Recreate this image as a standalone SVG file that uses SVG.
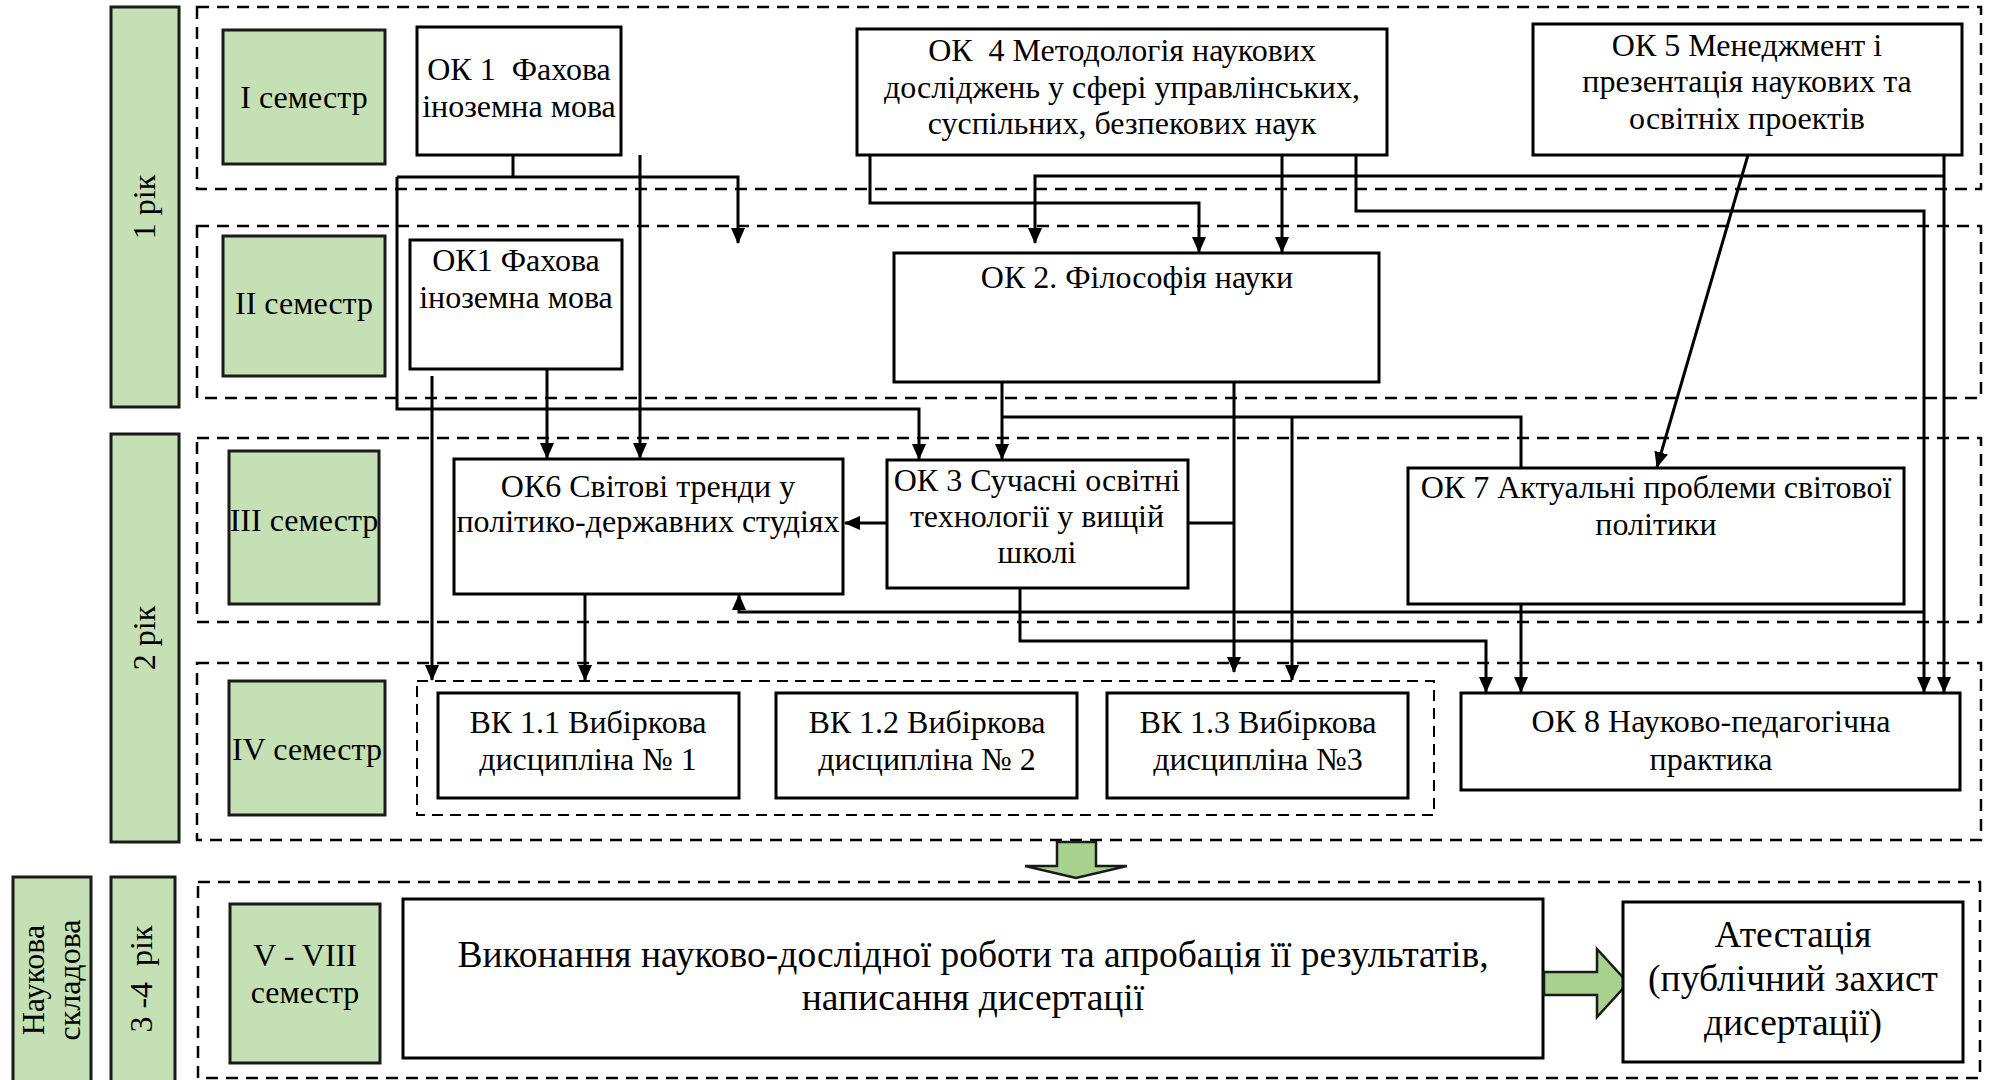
<svg xmlns="http://www.w3.org/2000/svg" width="1990" height="1080" viewBox="0 0 1990 1080" xml:space="preserve">
<defs>
<style>
.bg{fill:#ffffff}
.dash{fill:none;stroke:#000;stroke-width:2.5;stroke-dasharray:12 8}
.dash2{fill:none;stroke:#000;stroke-width:2;stroke-dasharray:11 7}
.green{fill:#c5e0b4;stroke:#1a1a1a;stroke-width:3}
.box{fill:#ffffff;stroke:#000;stroke-width:3}
.t{font-family:"Liberation Serif","Times New Roman",serif;font-size:32px;fill:#000;text-anchor:middle;white-space:pre}
.tb{font-family:"Liberation Serif","Times New Roman",serif;font-size:37.5px;fill:#000;text-anchor:middle;white-space:pre}
.c{fill:none;stroke:#000;stroke-width:3}
.ca{fill:none;stroke:#000;stroke-width:3;marker-end:url(#ah)}
.garrow{fill:#a9d18e;stroke:#1a1a1a;stroke-width:2.5}
</style>
<marker id="ah" markerUnits="userSpaceOnUse" markerWidth="16" markerHeight="14" refX="15" refY="7" orient="auto">
<path d="M0,0 L16,7 L0,14 Z" fill="#000"/>
</marker>
</defs>
<rect class="bg" x="0" y="0" width="1990" height="1080"/>

<g id="semester-frames">
<rect class="dash" x="197" y="7" width="1784" height="182"/>
<rect class="dash" x="197" y="226" width="1784" height="172"/>
<rect class="dash" x="197" y="438" width="1784" height="184"/>
<rect class="dash" x="197" y="663" width="1784" height="177"/>
<rect class="dash" x="198" y="882" width="1782" height="196"/>
</g>

<g id="year1">
<rect class="green" x="111" y="7" width="68" height="400"/>
<text class="t" x="155" y="207" transform="rotate(-90 155 207)">1 рік</text>
</g>
<g id="year2">
<rect class="green" x="111" y="434" width="68" height="408"/>
<text class="t" x="155" y="638" transform="rotate(-90 155 638)">2 рік</text>
</g>
<g id="year34">
<rect class="green" x="111" y="877" width="64" height="210"/>
<text class="t" x="152" y="979" transform="rotate(-90 152 979)" xml:space="preserve">3 -4  рік</text>
</g>
<g id="science">
<rect class="green" x="13" y="877" width="78" height="210"/>
<text class="t" x="44" y="980" transform="rotate(-90 44 980)">Наукова</text>
<text class="t" x="80" y="980" transform="rotate(-90 80 980)">складова</text>
</g>

<g id="sem1"><rect class="green" x="223" y="30" width="162" height="134"/><text class="t" x="304" y="108">I семестр</text></g>
<g id="sem2"><rect class="green" x="223" y="236" width="162" height="140"/><text class="t" x="304" y="314">II семестр</text></g>
<g id="sem3"><rect class="green" x="229" y="451" width="150" height="153"/><text class="t" x="304" y="531">III семестр</text></g>
<g id="sem4"><rect class="green" x="229" y="681" width="156" height="134"/><text class="t" x="307" y="760">IV семестр</text></g>
<g id="sem5"><rect class="green" x="230" y="904" width="150" height="159"/><text class="t" x="305" y="966">V - VIII</text><text class="t" x="305" y="1003">семестр</text></g>

<g id="connectors">
<path class="c" d="M513,155 V177"/>
<path class="ca" d="M397,177 H738 V243"/>
<path class="ca" d="M397,177 V409 H919 V459"/>
<path class="ca" d="M640,155 V458"/>
<path class="ca" d="M547,369 V458"/>
<path class="ca" d="M432,376 V680"/>
<path class="ca" d="M870,155 V203 H1199 V252"/>
<path class="ca" d="M1282,155 V252"/>
<path class="ca" d="M1356,155 V211 H1924 V692"/>
<path class="ca" d="M1924,612 H739 V595"/>
<path class="ca" d="M1944,155 V692"/>
<path class="ca" d="M1944,176 H1035 V243"/>
<path class="ca" d="M1748,155 L1657,467"/>
<path class="ca" d="M1002,382 V459"/>
<path class="c" d="M1002,417 H1521 V468"/>
<path class="ca" d="M1292,417 V680"/>
<path class="ca" d="M1234,382 V672"/>
<path class="c" d="M1188,523 H1234"/>
<path class="ca" d="M887,523 H845"/>
<path class="ca" d="M1020,588 V641 H1486 V692"/>
<path class="ca" d="M1521,604 V692"/>
<path class="ca" d="M585,594 V680"/>
</g>

<g id="ok1"><rect class="box" x="417" y="27" width="204" height="128"/><text class="t" x="519" y="80" xml:space="preserve">ОК 1  Фахова</text><text class="t" x="519" y="117">іноземна мова</text></g>
<g id="ok4"><rect class="box" x="857" y="29" width="530" height="126"/><text class="t" x="1122" y="61" xml:space="preserve">ОК  4 Методологія наукових</text><text class="t" x="1122" y="98">досліджень у сфері управлінських,</text><text class="t" x="1122" y="134">суспільних, безпекових наук</text></g>
<g id="ok5"><rect class="box" x="1533" y="24" width="429" height="131"/><text class="t" x="1747" y="56">ОК 5 Менеджмент і</text><text class="t" x="1747" y="92">презентація наукових та</text><text class="t" x="1747" y="129">освітніх проектів</text></g>
<g id="ok1b"><rect class="box" x="410" y="240" width="212" height="129"/><text class="t" x="516" y="271">ОК1 Фахова</text><text class="t" x="516" y="308">іноземна мова</text></g>
<g id="ok2"><rect class="box" x="894" y="253" width="485" height="129"/><text class="t" x="1137" y="288">ОК 2. Філософія науки</text></g>
<g id="ok6"><rect class="box" x="454" y="459" width="389" height="135"/><text class="t" x="648" y="497">ОК6 Світові тренди у</text><text class="t" x="648" y="532">політико-державних студіях</text></g>
<g id="ok3"><rect class="box" x="887" y="460" width="301" height="128"/><text class="t" x="1037" y="491">ОК 3 Сучасні освітні</text><text class="t" x="1037" y="527">технології у вищій</text><text class="t" x="1037" y="563">школі</text></g>
<g id="ok7"><rect class="box" x="1408" y="468" width="496" height="136"/><text class="t" x="1656" y="498">ОК 7 Актуальні проблеми світової</text><text class="t" x="1656" y="535">політики</text></g>
<g id="vk-group"><rect class="dash2" x="417" y="681" width="1017" height="134"/></g>
<g id="vk11"><rect class="box" x="438" y="693" width="301" height="105"/><text class="t" x="588" y="733">ВК 1.1 Вибіркова</text><text class="t" x="588" y="770">дисципліна № 1</text></g>
<g id="vk12"><rect class="box" x="776" y="693" width="301" height="105"/><text class="t" x="927" y="733">ВК 1.2 Вибіркова</text><text class="t" x="927" y="770">дисципліна № 2</text></g>
<g id="vk13"><rect class="box" x="1107" y="693" width="301" height="105"/><text class="t" x="1258" y="733">ВК 1.3 Вибіркова</text><text class="t" x="1258" y="770">дисципліна №3</text></g>
<g id="ok8"><rect class="box" x="1461" y="693" width="499" height="97"/><text class="t" x="1711" y="732">ОК 8 Науково-педагогічна</text><text class="t" x="1711" y="770">практика</text></g>

<g id="down-arrow"><polygon class="garrow" points="1057,842 1096,842 1096,866 1127,866 1076,878 1025,866 1057,866"/></g>

<g id="research"><rect class="box" x="403" y="899" width="1140" height="159"/><text class="tb" x="973" y="967">Виконання науково-дослідної роботи та апробація її результатів,</text><text class="tb" x="973" y="1010">написання дисертації</text></g>
<g id="right-arrow"><polygon class="garrow" points="1544,972 1597,972 1597,949 1628,983 1597,1017 1597,995 1544,995"/></g>
<g id="attestation"><rect class="box" x="1623" y="902" width="340" height="160"/><text class="tb" x="1793" y="947">Атестація</text><text class="tb" x="1793" y="991">(публічний захист</text><text class="tb" x="1793" y="1035">дисертації)</text></g>
</svg>
